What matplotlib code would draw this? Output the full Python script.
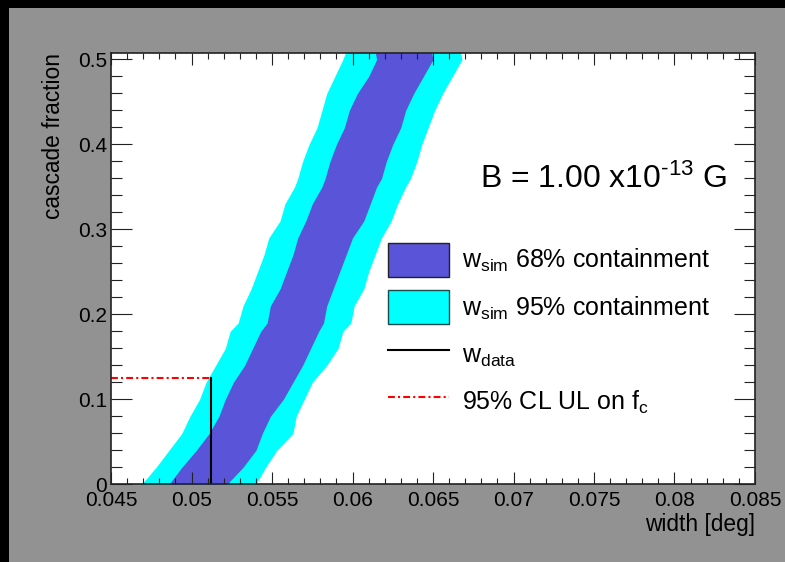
import matplotlib
matplotlib.use("Agg")
import matplotlib.pyplot as plt
from matplotlib.patches import Patch, Rectangle
from matplotlib.lines import Line2D
from matplotlib.ticker import MultipleLocator

plt.rcParams['font.family'] = ['Liberation Sans', 'DejaVu Sans']
plt.rcParams['mathtext.fontset'] = 'custom'
plt.rcParams['mathtext.rm'] = 'Liberation Sans'
plt.rcParams['mathtext.it'] = 'Liberation Sans:italic'

# cascade fraction grid and band edges (width in deg)
frac = [0.00, 0.02, 0.04, 0.06, 0.08, 0.10, 0.12, 0.14, 0.16, 0.18, 0.19, 0.21, 0.23, 0.25,
        0.27, 0.29, 0.31, 0.33, 0.35, 0.36, 0.38, 0.40, 0.42, 0.44, 0.46, 0.48, 0.50, 0.51]
cyan_lo = [0.0469, 0.0478, 0.0486, 0.0494, 0.0499, 0.0505, 0.0509, 0.0515, 0.0521, 0.0524,
           0.0529, 0.0532, 0.0537, 0.0541, 0.0545, 0.0548, 0.0555, 0.0558, 0.0564, 0.0566,
           0.0569, 0.0573, 0.0578, 0.0581, 0.0584, 0.0589, 0.0594, 0.0596]
purple_lo = [0.0486, 0.0494, 0.0503, 0.0511, 0.0517, 0.0521, 0.0526, 0.0533, 0.0538, 0.0543,
             0.0547, 0.0549, 0.0555, 0.0559, 0.0563, 0.0566, 0.0571, 0.0575, 0.0581, 0.0583,
             0.0586, 0.0590, 0.0595, 0.0598, 0.0603, 0.0610, 0.0615, 0.0614]
purple_hi = [0.0522, 0.0532, 0.0540, 0.0544, 0.0549, 0.0557, 0.0563, 0.0569, 0.0574, 0.0579,
             0.0582, 0.0584, 0.0588, 0.0592, 0.0596, 0.0600, 0.0607, 0.0611, 0.0615, 0.0618,
             0.0621, 0.0625, 0.0630, 0.0633, 0.0638, 0.0644, 0.0650, 0.0649]
cyan_hi = [0.0540, 0.0546, 0.0553, 0.0563, 0.0565, 0.0570, 0.0575, 0.0584, 0.0591, 0.0594,
           0.0599, 0.0601, 0.0607, 0.0610, 0.0614, 0.0618, 0.0624, 0.0628, 0.0633, 0.0636,
           0.0640, 0.0643, 0.0647, 0.0651, 0.0656, 0.0662, 0.0668, 0.0667]

w_data = 0.0512
f_ul = 0.125

purple = '#5954d8'
cyan = '#00ffff'
gray = '#929292'

fig = plt.figure(figsize=(7.85, 5.62), dpi=100, facecolor=gray)
# black canvas border (left and top)
fig.patches.append(Rectangle((0, 0), 9 / 785, 1, transform=fig.transFigure,
                             facecolor='black', edgecolor='none', zorder=-10))
fig.patches.append(Rectangle((0, 1 - 8 / 562), 1, 8 / 562, transform=fig.transFigure,
                             facecolor='black', edgecolor='none', zorder=-10))

ax = fig.add_axes([111 / 785, 1 - 484.3 / 562, 644 / 785, 431.6 / 562])
ax.set_facecolor('white')

ax.fill_betweenx(frac, cyan_lo, cyan_hi, color=cyan, lw=0)
ax.fill_betweenx(frac, purple_lo, purple_hi, color=purple, lw=0)

ax.plot([w_data, w_data], [0, f_ul], color='black', lw=1.5)
ax.plot([0.045, w_data], [f_ul, f_ul], color='red', lw=1.5, dashes=(3.3, 1.5, 1, 1.5))

ax.set_xlim(0.045, 0.085)
ax.set_ylim(0, 0.508)

ax.xaxis.set_minor_locator(MultipleLocator(0.001))
ax.yaxis.set_minor_locator(MultipleLocator(0.02))
ax.set_xticks([0.045, 0.05, 0.055, 0.06, 0.065, 0.07, 0.075, 0.08, 0.085])
ax.set_xticklabels(['0.045', '0.05', '0.055', '0.06', '0.065', '0.07', '0.075', '0.08', '0.085'])
ax.set_yticks([0, 0.1, 0.2, 0.3, 0.4, 0.5])
ax.set_yticklabels(['0', '0.1', '0.2', '0.3', '0.4', '0.5'])

ax.tick_params(axis='x', which='major', direction='in', length=8.6, width=0.8,
               top=True, labelsize=15, pad=5, color='#222222')
ax.tick_params(axis='x', which='minor', direction='in', length=4.6, width=0.8,
               top=True, color='#222222')
ax.tick_params(axis='y', which='major', direction='in', length=14.9, width=0.8,
               right=True, labelsize=15, pad=3, color='#222222')
ax.tick_params(axis='y', which='minor', direction='in', length=7.7, width=0.8,
               right=True, color='#222222')
for s in ax.spines.values():
    s.set_linewidth(1.2)
    s.set_color('#222222')

ax.set_xlabel('width [deg]', fontsize=16.4, loc='right')
ax.xaxis.set_label_coords(1.0, -0.066)
ax.set_ylabel('cascade fraction', fontsize=16.4, loc='top')
ax.yaxis.set_label_coords(-0.072, 1.0)

ax.text(0.958, 0.6865, 'B = 1.00 x10$^{\\mathregular{\u201013}}$ G', transform=ax.transAxes,
        fontsize=23, ha='right', va='baseline')

handles = [
    Patch(facecolor=purple, edgecolor='#222222', lw=1),
    Patch(facecolor=cyan, edgecolor='#1a4a4a', lw=1),
    Line2D([], [], color='black', lw=1.5),
    Line2D([], [], color='red', lw=1.5, dashes=(3.3, 1.5, 1, 1.5)),
]
labels = [r'w$_{\mathregular{sim}}$ 68% containment',
          r'w$_{\mathregular{sim}}$ 95% containment',
          r'w$_{\mathregular{data}}$',
          r'95% CL UL on f$_{\mathregular{c}}$']
ax.legend(handles, labels, loc='upper left', bbox_to_anchor=(0.430, 0.559),
          bbox_transform=ax.transAxes, frameon=False, fontsize=18,
          handlelength=2.45, handleheight=1.715, labelspacing=0.53,
          handletextpad=0.52, borderpad=0, borderaxespad=0)

fig.savefig('out.png', dpi=100, facecolor=gray)
